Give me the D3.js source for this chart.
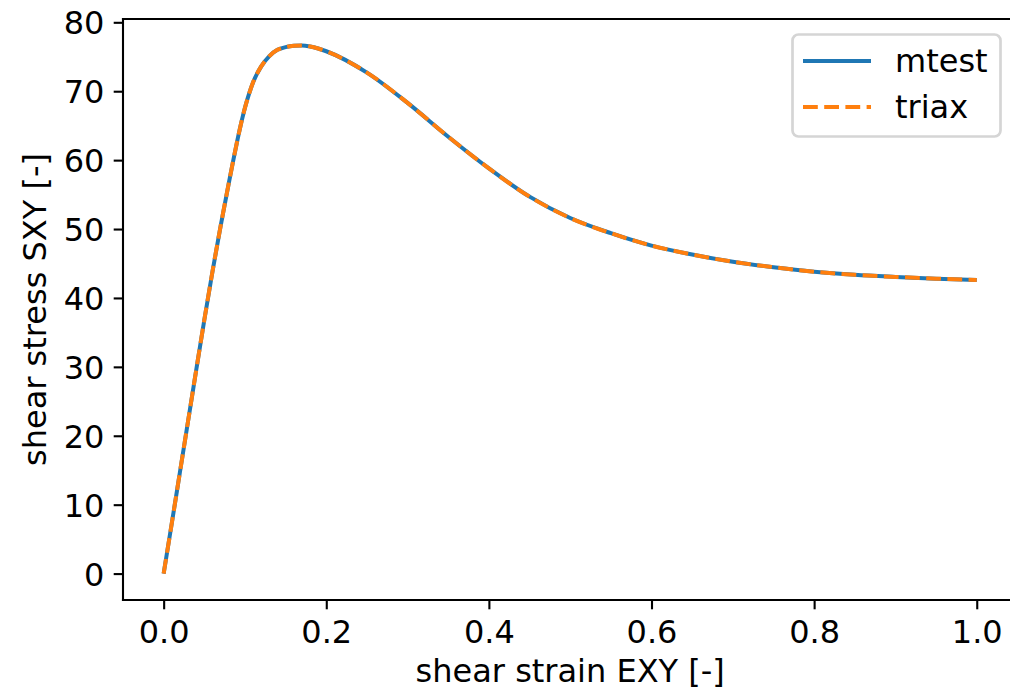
<!DOCTYPE html>
<html>
<head>
<meta charset="utf-8">
<script src="https://cdn.jsdelivr.net/npm/d3@7"></script>
<style>
  html, body { margin: 0; padding: 0; background: #fff; }
  svg { display: block; font-family: "DejaVu Sans", sans-serif; }
</style>
</head>
<body>
<svg id="chart" width="1010" height="691"></svg>
<script>
// Shear response: strain EXY vs stress SXY, same curve from both solvers
const strain = [0, 0.01, 0.02, 0.03, 0.04, 0.05, 0.06, 0.07, 0.08, 0.085, 0.09, 0.095,
  0.10, 0.105, 0.11, 0.12, 0.13, 0.14, 0.15, 0.16, 0.17, 0.18, 0.19, 0.20,
  0.25, 0.30, 0.35, 0.40, 0.45, 0.50, 0.55, 0.60, 0.65, 0.70, 0.75, 0.80,
  0.85, 0.90, 0.95, 1.00];
const stressMtest = [0, 7.3, 14.7, 22.1, 29.5, 36.8, 43.8, 50.4, 56.6, 59.6, 62.5, 65.2,
  67.6, 69.6, 71.3, 73.6, 75.1, 76.0, 76.4, 76.6, 76.65, 76.5, 76.2, 75.8,
  72.7, 68.3, 63.4, 58.8, 54.7, 51.6, 49.4, 47.6, 46.3, 45.25, 44.45, 43.8,
  43.35, 43.05, 42.8, 42.62];
const stressTriax = stressMtest.slice();

const xTicks = [0.0, 0.2, 0.4, 0.6, 0.8, 1.0];
const yTicks = [0, 10, 20, 30, 40, 50, 60, 70, 80];
const seriesNames = ["mtest", "triax"];
const seriesColors = ["#1f77b4", "#ff7f0e"];

const svg = d3.select("#chart");
const axLeft = 123, axTop = 19, axBottom = 600, axRight = 1017.4;

const x = d3.scaleLinear().domain([-0.05, 1.05]).range([axLeft, axRight]);
const y = d3.scaleLinear().domain([-3.833, 80.48]).range([axBottom, axTop]);

const fontSize = 32;
const lineW = 4;

// curves
const line = d3.line().x(d => x(d[0])).y(d => y(d[1])).curve(d3.curveMonotoneX);
const plot = svg.append("g");
plot.append("path")
  .datum(strain.map((s, i) => [s, stressMtest[i]]))
  .attr("d", line).attr("fill", "none")
  .attr("stroke", seriesColors[0]).attr("stroke-width", lineW);
plot.append("path")
  .datum(strain.map((s, i) => [s, stressTriax[i]]))
  .attr("d", line).attr("fill", "none")
  .attr("stroke", seriesColors[1]).attr("stroke-width", lineW)
  .attr("stroke-dasharray", "14.8,6.4");

// axes
const xAxis = d3.axisBottom(x).tickValues(xTicks).tickFormat(d3.format(".1f"))
  .tickSize(9.3).tickPadding(9.3);
const yAxis = d3.axisLeft(y).tickValues(yTicks).tickFormat(d3.format("d"))
  .tickSize(9.3).tickPadding(9.3);

const gx = svg.append("g").attr("transform", `translate(0,${axBottom})`).call(xAxis);
const gy = svg.append("g").attr("transform", `translate(${axLeft},0)`).call(yAxis);
[gx, gy].forEach(g => {
  g.select(".domain").remove();
  g.selectAll(".tick line").attr("stroke", "#000").attr("stroke-width", 2.1);
  g.selectAll(".tick text").attr("fill", "#000")
    .style("font-family", "DejaVu Sans").style("font-size", fontSize + "px");
});
gx.selectAll(".tick text").attr("dy", null).attr("y", 42.5);
gy.selectAll(".tick text").attr("dy", "0.36em");

// spines
const sp = svg.append("g").attr("stroke", "#000").attr("stroke-width", 2.1)
  .attr("stroke-linecap", "square");
sp.append("line").attr("x1", axLeft).attr("x2", axLeft).attr("y1", axTop).attr("y2", axBottom);
sp.append("line").attr("x1", axLeft).attr("x2", axRight).attr("y1", axBottom).attr("y2", axBottom);
sp.append("line").attr("x1", axLeft).attr("x2", axRight).attr("y1", axTop).attr("y2", axTop);
sp.append("line").attr("x1", axRight).attr("x2", axRight).attr("y1", axTop).attr("y2", axBottom);

// axis labels
svg.append("text").attr("x", (axLeft + axRight) / 2).attr("y", 681.5)
  .attr("text-anchor", "middle").style("font-size", fontSize + "px").attr("fill", "#000")
  .text("shear strain EXY [-]");
svg.append("text").attr("transform", `translate(46,${(axTop + axBottom) / 2}) rotate(-90)`)
  .attr("text-anchor", "middle").style("font-size", fontSize + "px").attr("fill", "#000")
  .text("shear stress SXY [-]");

// legend
const lg = svg.append("g");
lg.append("rect").attr("x", 792.5).attr("y", 34.5).attr("width", 208).attr("height", 102)
  .attr("rx", 6).attr("fill", "rgba(255,255,255,0.8)")
  .attr("stroke", "#d5d5d5").attr("stroke-width", 2.7);
const rows = [61, 107];
seriesNames.forEach((name, i) => {
  const l = lg.append("line").attr("x1", 803).attr("x2", 871)
    .attr("y1", rows[i]).attr("y2", rows[i])
    .attr("stroke", seriesColors[i]).attr("stroke-width", lineW);
  if (i === 1) l.attr("stroke-dasharray", "14.8,6.4");
  lg.append("text").attr("x", 895).attr("y", rows[i] + 11.3)
    .style("font-size", fontSize + "px").attr("fill", "#000").text(name);
});
</script>
</body>
</html>
